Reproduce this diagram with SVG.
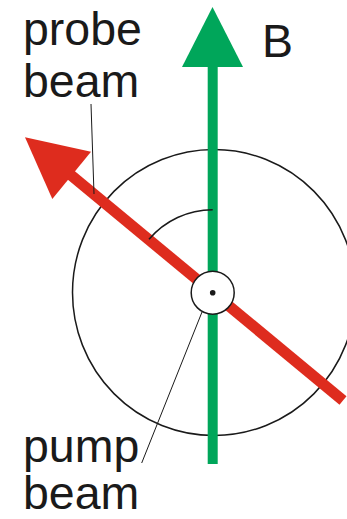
<svg xmlns="http://www.w3.org/2000/svg" width="347" height="519" viewBox="0 0 347 519">
<style>
.lbl{font-family:"Liberation Sans",Arial,sans-serif;font-size:46.5px;fill:#1a1a1a}
.thin{fill:none;stroke:#1a1a1a;stroke-width:1.5}
.lead{fill:none;stroke:#1a1a1a;stroke-width:1}
</style>
<rect width="347" height="519" fill="#fff"/>
<g id="circle">
<ellipse cx="214" cy="292.5" rx="141.5" ry="143" class="thin"/>
</g>
<g id="connectors">
<g id="B-field">
<line x1="212.7" y1="464" x2="212.7" y2="62" stroke="#00a65a" stroke-width="10"/>
<polygon points="212.5,7 243,67 182,67" fill="#00a65a"/>
</g>
<g id="probe-arrow">
<line x1="69" y1="173.5" x2="343" y2="400.5" stroke="#de2c1e" stroke-width="11"/>
<polygon points="25,137.3 91,151.7 52.3,199" fill="#de2c1e"/>
</g>
<path d="M212.7,209.7 A83.5,83.5 0 0 0 149,239.3" class="thin"/>
<line x1="91" y1="104" x2="94" y2="194" class="lead"/>
<line x1="202" y1="312" x2="141.7" y2="463" class="lead"/>
</g>
<g id="center">
<circle cx="212.7" cy="292.7" r="21.5" fill="#fff" stroke="#1a1a1a" stroke-width="1.5"/>
<circle cx="212.7" cy="292.7" r="2.8" fill="#1a1a1a"/>
</g>
<g id="labels">
<text class="lbl" x="23" y="45">probe</text>
<text class="lbl" x="23" y="97">beam</text>
<text class="lbl" x="262" y="57">B</text>
<text class="lbl" x="23" y="462">pump</text>
<text class="lbl" x="23" y="509">beam</text>
</g>
</svg>
